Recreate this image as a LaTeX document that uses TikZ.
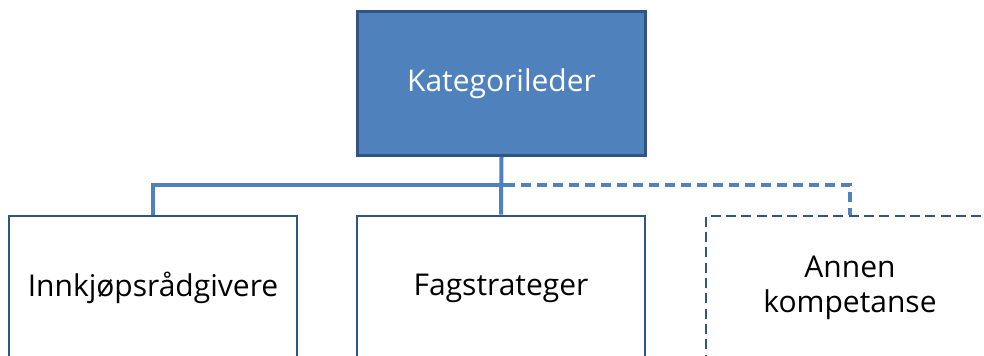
\documentclass[tikz,border=0pt]{standalone}
\usepackage{fontspec}
\setmainfont{Open Sans}
\definecolor{fillblue}{RGB}{79,129,189}
\definecolor{edgeblue}{RGB}{50,84,130}
\definecolor{connblue}{RGB}{79,129,189}
\tikzset{
  boxstyle/.style={draw=edgeblue, line width=2pt, minimum width=216pt, minimum height=108pt, inner sep=0pt, font=\fontsize{22.5}{26.5}\selectfont, align=center},
  topbox/.style={boxstyle, fill=fillblue, text=white},
  dashbox/.style={boxstyle, dash pattern=on 7.5pt off 4pt},
  conn/.style={draw=connblue, line width=3pt},
  dashconn/.style={conn, dash pattern=on 7.5pt off 4.5pt}
}
\begin{document}
\begin{tikzpicture}[x=0.75pt, y=-0.75pt]
\useasboundingbox (0,0) rectangle (984,355);
\begin{scope}
\clip (0,0) rectangle (984,355);
\node[topbox] (top) at (501.5,83.5) {Kategorileder};
\node[boxstyle] (inn) at (153,288) {Innkjøpsrådgivere};
\node[boxstyle] (fag) at (501,288) {Fagstrateger};
\node[dashbox] (ann) at (850,288) {Annen\\kompetanse};
\coordinate (busend) at (505,185);
\draw[conn] (top.south) -- (fag.north);
\draw[conn] (inn.north) |- (busend);
\draw[dashconn] (busend) -| (ann.north);
\end{scope}
\end{tikzpicture}
\end{document}
